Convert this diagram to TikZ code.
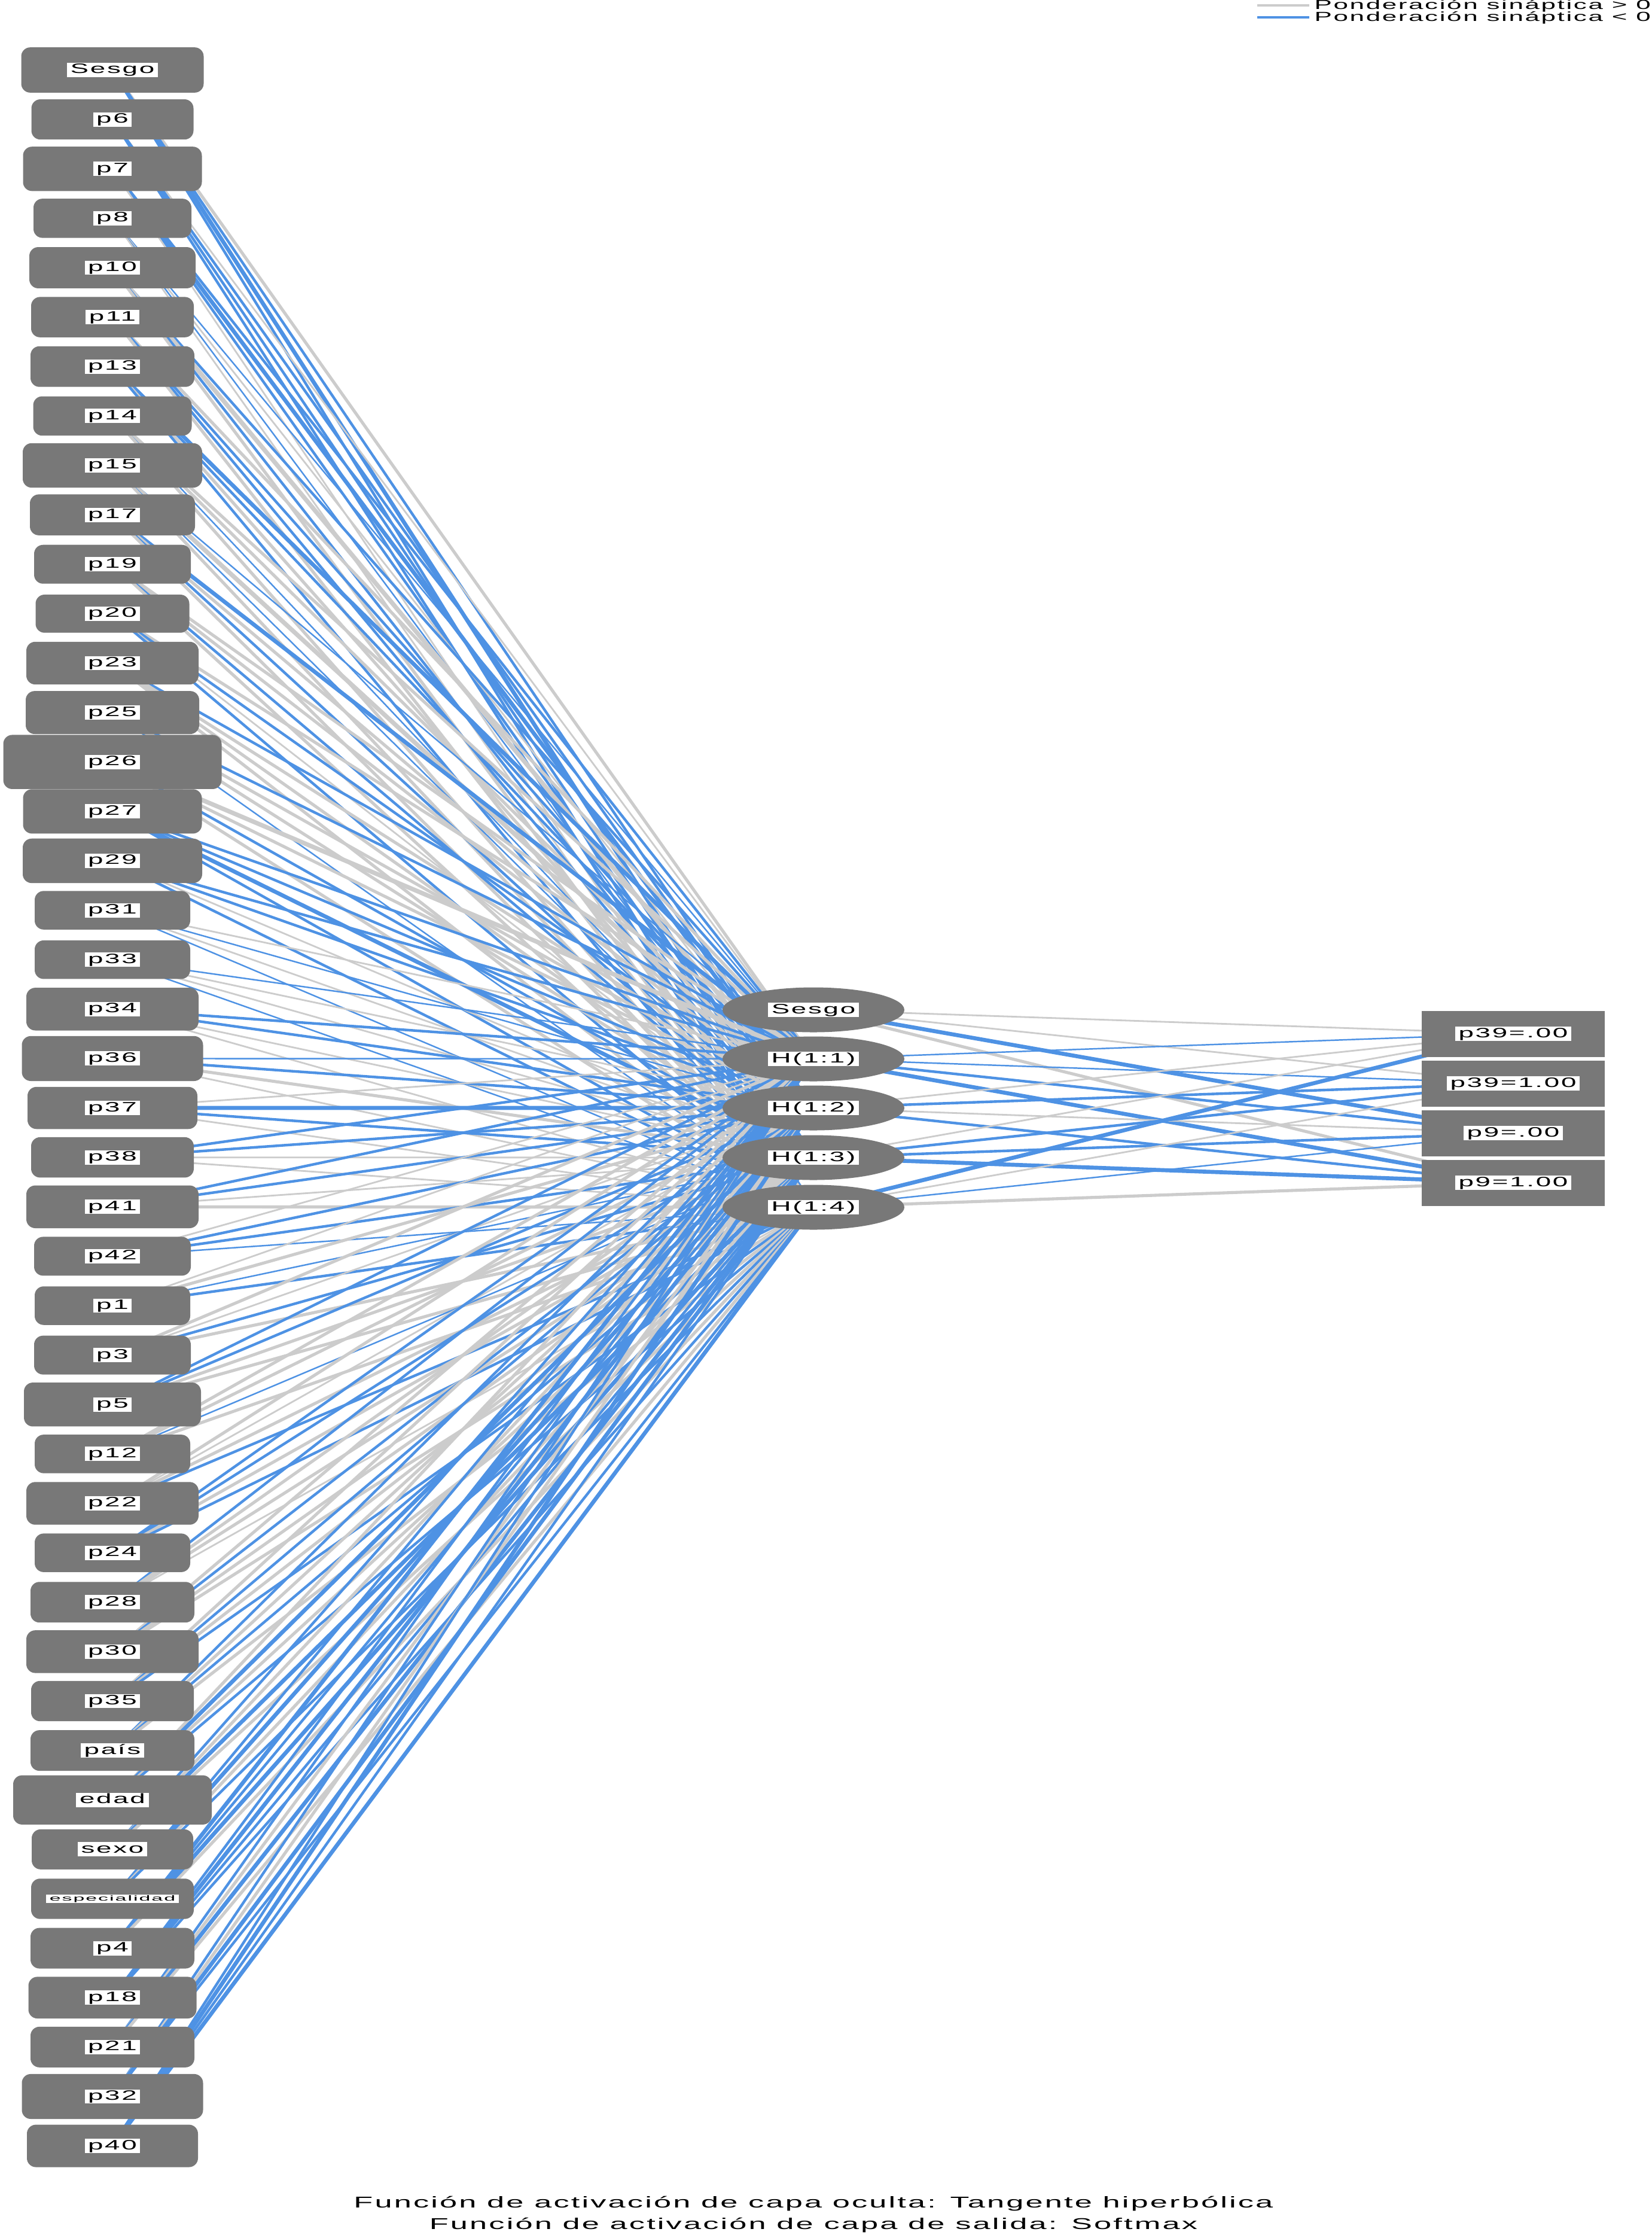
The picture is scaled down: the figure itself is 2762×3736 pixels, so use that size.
\documentclass[tikz,border=0pt]{standalone}
\usepackage{fontspec}
\setmainfont{Liberation Sans}
\newfontfamily\lblfont{Liberation Sans}[FakeStretch=2.0,LetterSpace=12]
\usetikzlibrary{shapes.geometric,backgrounds}
\definecolor{nodegray}{RGB}{120,120,120}
\definecolor{posline}{RGB}{204,204,204}
\definecolor{negline}{RGB}{78,146,228}
\tikzset{
  inbox/.style={fill=nodegray, rounded corners=1.5mm, inner sep=0pt,
    minimum width={#1*0.1mm}, minimum height={0.248*#1*0.1mm}},
  hidbox/.style={fill=nodegray, ellipse, inner sep=0pt, minimum width=30.4mm, minimum height=7.5mm},
  outbox/.style={fill=nodegray, rectangle, inner sep=0pt, minimum width=30.6mm, minimum height=7.7mm},
  lbl/.style={fill=white, inner xsep=1.6pt, inner ysep=0.3pt, text=black,
    font={\lblfont\fontsize{6.5}{7.8}\selectfont}, text height=4.8pt, text depth=1.4pt},
  smalllbl/.style={lbl, text height=2.5pt, text depth=0.7pt},
  captxt/.style={inner sep=0pt, text=black, font={\lblfont\fontsize{7.45}{8.9}\selectfont}},
  legtxt/.style={inner sep=0pt, text=black, anchor=west, font={\lblfont\fontsize{6.25}{7.5}\selectfont}},
  B1/.style={draw=negline, line width=0.7pt},
  B2/.style={draw=negline, line width=1.25pt},
  B3/.style={draw=negline, line width=1.9pt},
  G1/.style={draw=posline, line width=0.8pt},
  G2/.style={draw=posline, line width=1.45pt},
  G3/.style={draw=posline, line width=2.1pt}
}
\begin{document}
\begin{tikzpicture}[x=0.1mm, y=-0.1mm]
\useasboundingbox (0,0) rectangle (2762,3736);
% input layer
\foreach \i/\w/\t in {0/305/Sesgo, 1/271/p6, 2/299/p7, 3/264/p8, 4/278/p10, 5/272/p11,
  6/274/p13, 7/265/p14, 8/300/p15, 9/276/p17, 10/262/p19, 11/257/p20, 12/288/p23,
  13/290/p25, 14/365/p26, 15/299/p27, 16/300/p29, 17/260/p31, 18/260/p33, 19/288/p34,
  20/303/p36, 21/284/p37, 22/272/p38, 23/288/p41, 24/262/p42, 25/260/p1, 26/262/p3,
  27/296/p5, 28/260/p12, 29/288/p22, 30/260/p24, 31/274/p28, 32/288/p30, 33/272/p35,
  34/274/país, 35/332/edad, 36/270/sexo, 38/274/p4, 39/281/p18, 40/274/p21,
  41/303/p32, 42/286/p40} {
  \node[inbox=\w] (in\i) at (188,{117+82.62*\i}) {};
  \node[lbl] (inl\i) at (in\i) {\t};
}
\node[inbox=272] (in37) at (188,{117+82.62*37}) {};
\node[smalllbl] (inl37) at (in37) {\scalebox{0.74}[0.55]{especialidad}};
% hidden layer
\node[hidbox] (hb) at (1360,1688) {};
\node[lbl] (hbl) at (hb) {Sesgo};
\node[hidbox] (h1) at (1360,1770) {};
\node[lbl] (h1l) at (h1) {H(1:1)};
\node[hidbox] (h2) at (1360,1852) {};
\node[lbl] (h2l) at (h2) {H(1:2)};
\node[hidbox] (h3) at (1360,1935) {};
\node[lbl] (h3l) at (h3) {H(1:3)};
\node[hidbox] (h4) at (1360,2018) {};
\node[lbl] (h4l) at (h4) {H(1:4)};
% output layer
\node[outbox] (o1) at (2530,1728) {};
\node[lbl] (o1l) at (o1) {p39=.00};
\node[outbox] (o2) at (2530,1811) {};
\node[lbl] (o2l) at (o2) {p39=1.00};
\node[outbox] (o3) at (2530,1894) {};
\node[lbl] (o3l) at (o3) {p9=.00};
\node[outbox] (o4) at (2530,1977) {};
\node[lbl] (o4l) at (o4) {p9=1.00};
% connectors
\begin{scope}[on background layer]
\fill[white] (0,0) rectangle (2762,3736);
\foreach \i/\a/\b/\c/\d in {
  0/G2/B2/B3/B2, 1/G1/B2/B2/B2, 2/B2/B3/B2/G1, 3/B1/G1/B1/G1, 4/B2/G3/B2/G2,
  5/G2/B2/B2/G2, 6/B3/B2/G2/B2, 7/G2/G2/B1/G2, 8/B1/G3/B1/G2, 9/B3/G2/B2/G2,
  10/G2/G2/B2/G2, 11/G2/B2/G1/B2, 12/B2/G2/G2/G2, 13/B2/G2/G2/B1, 14/G3/G2/B2/G2,
  15/B2/B2/B3/B2, 16/B2/B2/G1/B2, 17/G1/B1/G1/B1, 18/B1/G1/G1/B1, 19/B2/B2/G1/G1,
  20/B1/B2/G2/G1, 21/G1/B3/B2/G1, 22/B2/B2/G1/G1, 23/B2/B2/G1/G2, 24/G1/B2/B2/B1,
  25/G1/G2/B1/B2, 26/G2/G1/B2/G2, 27/B2/B2/G2/G2, 28/G2/G2/B1/G2, 29/G2/G1/G2/B2,
  30/B2/B2/G2/B2, 31/B2/G2/G2/G1, 32/G2/B2/G2/G2, 33/G2/B2/G2/B2, 34/B2/G2/B2/G2,
  35/G2/B3/G2/B2, 36/B2/G2/B3/G2, 37/B2/B3/G2/B2, 38/B3/B2/B3/G2, 39/B2/B3/B2/B2,
  40/B2/G2/B3/G2, 41/B2/G2/B3/B2, 42/B2/B3/B2/B3} {
  \draw[\a] (in\i.center) -- (h1.center);
  \draw[\b] (in\i.center) -- (h2.center);
  \draw[\c] (in\i.center) -- (h3.center);
  \draw[\d] (in\i.center) -- (h4.center);
}
\foreach \h/\a/\b/\c/\d in {hb/G1/G1/B3/G2, h1/B1/B1/B2/B3, h2/G1/B2/G1/B2,
  h3/G1/B2/B2/B3, h4/B3/G1/B1/G2} {
  \draw[\a] (\h.center) -- (o1.center);
  \draw[\b] (\h.center) -- (o2.center);
  \draw[\c] (\h.center) -- (o3.center);
  \draw[\d] (\h.center) -- (o4.center);
}
\end{scope}
% legend
\coordinate (lga) at (2102,9);
\coordinate (lgb) at (2189,9);
\coordinate (lgc) at (2102,29);
\coordinate (lgd) at (2189,29);
\draw[posline, line width=0.95pt] (lga) -- (lgb);
\draw[negline, line width=0.95pt] (lgc) -- (lgd);
\node[legtxt] (lg1) at (2197,10) {Ponderación sináptica > 0};
\node[legtxt] (lg2) at (2197,30) {Ponderación sináptica < 0};
% caption
\node[captxt] (cap1) at (1360,3684) {Función de activación de capa oculta: Tangente hiperbólica};
\node[captxt] (cap2) at (1360,3720) {Función de activación de capa de salida: Softmax};
\end{tikzpicture}
\end{document}
